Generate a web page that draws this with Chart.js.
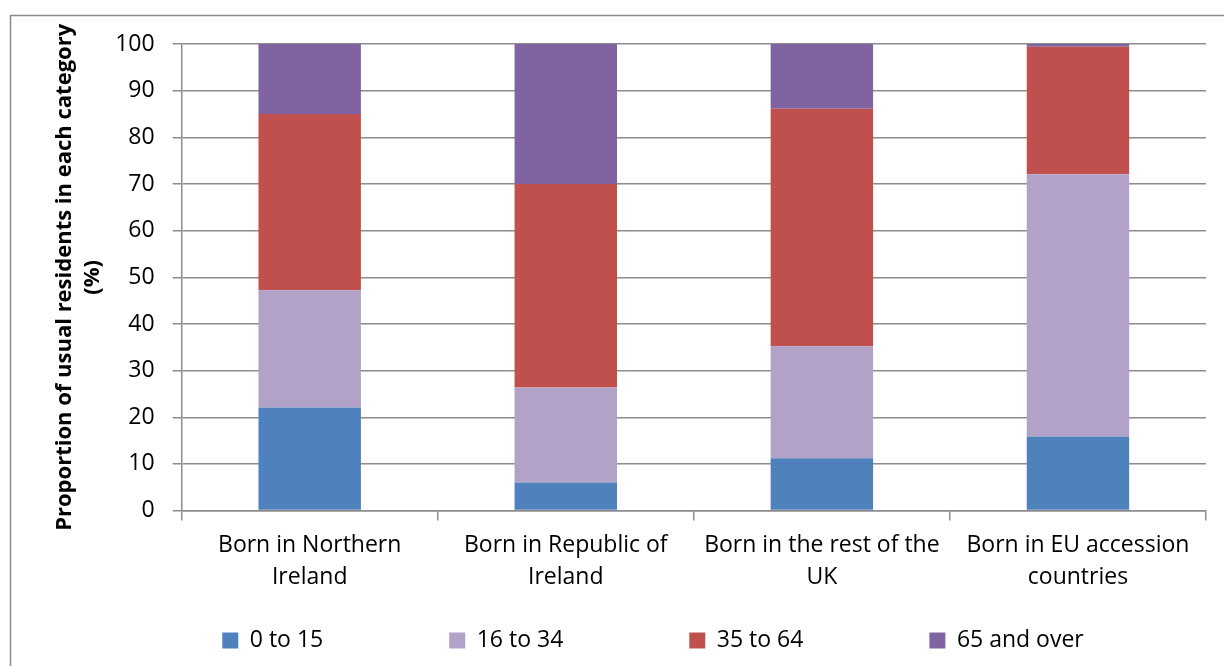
<!DOCTYPE html>
<html>
<head>
<meta charset="utf-8">
<script src="https://cdn.jsdelivr.net/npm/chart.js@4/dist/chart.umd.min.js"></script>
<style>
  html,body{margin:0;padding:0;background:#fff;}
  #wrap{position:relative;width:1224px;height:666px;}
</style>
</head>
<body>
<div id="wrap"><canvas id="c" width="1224" height="666"></canvas></div>
<script>
const categories = [
  ["Born in Northern", "Ireland"],
  ["Born in Republic of", "Ireland"],
  ["Born in the rest of the", "UK"],
  ["Born in EU accession", "countries"]
];
const seriesNames = ["0 to 15", "16 to 34", "35 to 64", "65 and over"];
const age0to15   = [22.1, 6.0, 11.2, 15.9];
const age16to34  = [25.1, 20.4, 24.0, 56.2];
const age35to64  = [37.8, 43.6, 50.9, 27.3];
const age65plus  = [15.0, 30.0, 13.9, 0.6];
const yTicks = [0, 10, 20, 30, 40, 50, 60, 70, 80, 90, 100];
const yTitle = ["Proportion of usual residents in each category", "(%)"];

const colors = ["#4F81BD", "#B2A2C7", "#C0504D", "#8064A2"];
const FONT = "'Open Sans'";

const borderPlugin = {
  id: 'outerBorder',
  beforeDraw(chart) {
    const ctx = chart.ctx;
    ctx.save();
    ctx.fillStyle = '#fff';
    ctx.fillRect(0, 0, chart.width, chart.height);
    ctx.strokeStyle = '#8c8c8c';
    ctx.lineWidth = 1.5;
    ctx.strokeRect(10.5, 15.5, 1400, 800);
    ctx.restore();
  }
};

const legendShift = {
  id: 'legendShift',
  afterLayout(chart) {
    const lg = chart.legend;
    if (!lg) return;
    const dx = 30;
    lg.left += dx; lg.right += dx;
    lg.top = 629 - lg.options.labels.padding;
    lg.bottom = 666;
  }
};

new Chart(document.getElementById('c'), {
  type: 'bar',
  data: {
    labels: categories,
    datasets: [
      { label: seriesNames[0], data: age0to15,  backgroundColor: colors[0] },
      { label: seriesNames[1], data: age16to34, backgroundColor: colors[1] },
      { label: seriesNames[2], data: age35to64, backgroundColor: colors[2] },
      { label: seriesNames[3], data: age65plus, backgroundColor: colors[3] }
    ].map(d => Object.assign(d, { categoryPercentage: 1.0, barPercentage: 0.4, borderWidth: 0 }))
  },
  options: {
    responsive: false,
    animation: false,
    devicePixelRatio: 1,
    layout: { padding: { top: 44, left: 40, right: 18, bottom: 23 } },
    plugins: {
      legend: {
        position: 'bottom',
        maxHeight: 40,
        labels: {
          boxWidth: 16, boxHeight: 16, padding: 126,
          color: '#000',
          font: { family: FONT, size: 23 }
        }
      },
      tooltip: { enabled: false },
      title: { display: false }
    },
    scales: {
      x: {
        stacked: true,
        grid: { display: true, drawOnChartArea: false, drawTicks: true, offset: true, tickLength: 10, color: '#8c8c8c', lineWidth: 1.5 },
        border: { display: true, color: '#8c8c8c', width: 1.5 },
        ticks: { color: '#000', font: { family: FONT, size: 23, lineHeight: 1.4 }, padding: 9, maxRotation: 0, autoSkip: false }
      },
      y: {
        stacked: true,
        min: 0, max: 100,
        afterBuildTicks(scale) { scale.ticks = yTicks.map(v => ({ value: v })); },
        grid: { color: '#8c8c8c', lineWidth: 1.5, tickLength: 9, drawTicks: true },
        border: { display: true, color: '#8c8c8c', width: 1.5 },
        ticks: { color: '#000', font: { family: FONT, size: 23 }, padding: 18 },
        title: {
          display: true, text: yTitle, color: '#000',
          font: { family: FONT, size: 22, weight: 'bold', lineHeight: 1.3 },
          padding: { top: 10, bottom: -10 }
        }
      }
    }
  },
  plugins: [borderPlugin, legendShift]
});
</script>
</body>
</html>
